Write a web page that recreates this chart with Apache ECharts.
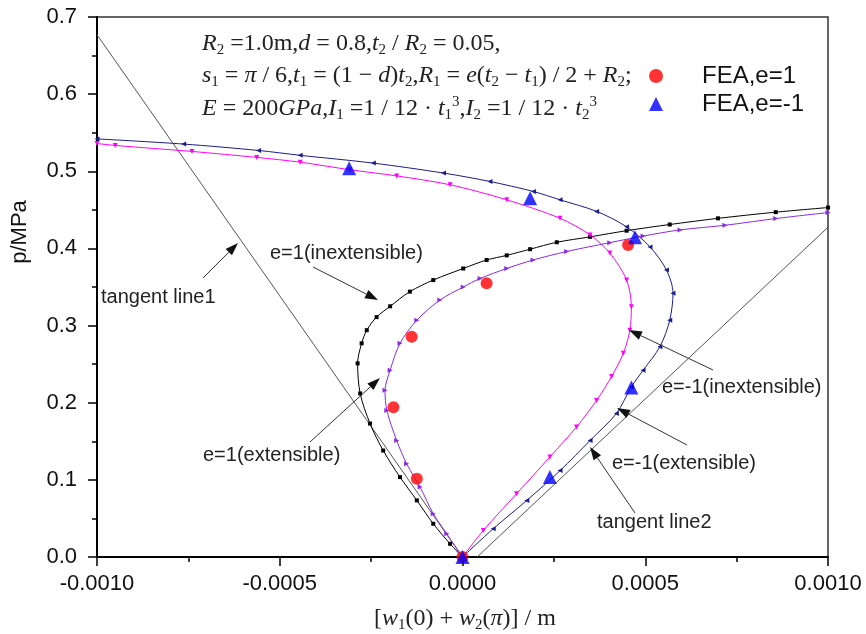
<!DOCTYPE html>
<html><head><meta charset="utf-8">
<script src="https://cdn.jsdelivr.net/npm/echarts@6/dist/echarts.min.js"></script>
<style>html,body{margin:0;padding:0;background:#fff}#c{width:866px;height:634px}</style>
</head><body><div id="c"></div><script>
// ---- data (x in m, p in MPa) ----
const e1Inextensible = [[0,0],[-0.000034,0.0171],[-0.00008,0.0431],[-0.000125,0.0734],[-0.000171,0.1036],[-0.000217,0.138],[-0.000253,0.173],[-0.00028,0.212],[-0.000287,0.251],[-0.000276,0.277],[-0.000262,0.294],[-0.000235,0.311],[-0.000198,0.325],[-0.000144,0.344],[-0.00008,0.359],[0.000002,0.374],[0.000066,0.385],[0.000121,0.391],[0.000185,0.399],[0.000258,0.408],[0.000349,0.415],[0.000449,0.423],[0.000567,0.431],[0.000699,0.439],[0.000857,0.447],[0.001,0.453]];
const e1Extensible = [[0,0],[-0.000043,0.030],[-0.00008,0.0561],[-0.000116,0.0906],[-0.000153,0.121],[-0.00018,0.151],[-0.000207,0.190],[-0.000212,0.216],[-0.000198,0.242],[-0.000171,0.277],[-0.000125,0.307],[-0.000062,0.333],[0.000002,0.350],[0.000048,0.361],[0.000121,0.374],[0.000193,0.385],[0.000285,0.396],[0.000403,0.4075],[0.000494,0.416],[0.000595,0.424],[0.000718,0.430],[0.000857,0.4387],[0.001,0.4465]];
const em1Inextensible = [[0,0],[0.000057,0.0344],[0.000148,0.082],[0.000239,0.1296],[0.000312,0.1686],[0.000367,0.203],[0.000408,0.234],[0.00044,0.264],[0.000458,0.294],[0.000462,0.3245],[0.000449,0.359],[0.000403,0.394],[0.000349,0.4175],[0.000267,0.439],[0.000121,0.463],[-0.000034,0.4825],[-0.00018,0.494],[-0.000308,0.502],[-0.000444,0.5118],[-0.000563,0.518],[-0.00074,0.5257],[-0.00095,0.5335],[-0.001,0.536]];
const em1Extensible = [[0,0],[0.000084,0.0366],[0.000176,0.0734],[0.000267,0.112],[0.000349,0.151],[0.000421,0.186],[0.000462,0.2205],[0.000494,0.242],[0.00054,0.2725],[0.000567,0.307],[0.000576,0.342],[0.000558,0.372],[0.000513,0.402],[0.000449,0.428],[0.000367,0.448],[0.000267,0.463],[0.000194,0.4738],[0.000075,0.4868],[-0.000052,0.4977],[-0.000244,0.5106],[-0.000444,0.5207],[-0.000558,0.527],[-0.000763,0.5353],[-0.001,0.542]];
const tangentLine1 = [[-0.001,0.677],[0,0]];
const tangentLine2 = [[0.00004,0],[0.001,0.4275]];
const feaE1 = [[0,0],[-0.000125,0.1015],[-0.000189,0.194],[-0.000139,0.2855],[0.000066,0.355],[0.000453,0.4045]];
const feaEm1 = [[0,0],[0.000239,0.1036],[0.000462,0.2197],[0.000472,0.4145],[0.000185,0.465],[-0.00031,0.504]];
const xTicks = {min:-0.001, max:0.001, step:0.0005};
const yTicks = {min:0, max:0.7, step:0.1};
const legendNames = ['FEA,e=1','FEA,e=-1'];

const SANS = 'Liberation Sans', SERIF = 'Liberation Serif';
const chart = echarts.init(document.getElementById('c'), null, {renderer:'canvas'});

function curve(name, data, color, sym, rot, size){
  return {name, type:'line', data, smooth:0.3, showSymbol:true,
    symbol:sym, symbolSize:size, symbolRotate:rot, z:3,
    lineStyle:{color, width:1}, itemStyle:{color}, animation:false, silent:true};
}
function arrow(x1,y1,x2,y2){
  const dx=x2-x1, dy=y2-y1, L=Math.hypot(dx,dy), ux=dx/L, uy=dy/L, hl=13, hw=4.5;
  const bx=x2-ux*hl, by=y2-uy*hl;
  return [{type:'line', z:50, shape:{x1,y1,x2:bx,y2:by}, style:{stroke:'#333', lineWidth:1}},
          {type:'polygon', z:50, shape:{points:[[x2,y2],[bx-uy*hw,by+ux*hw],[bx+uy*hw,by-ux*hw]]}, style:{fill:'#111'}}];
}
function label(text,x,y){
  return {type:'text', z:50, x, y, style:{text, fill:'#222', font:'20px "'+SANS+'"', textVerticalAlign:'middle'}};
}
const rich = {
  i:{fontFamily:SERIF, fontStyle:'italic', fontSize:24, lineHeight:28, verticalAlign:'middle', color:'#222'},
  n:{fontFamily:SERIF, fontSize:24, lineHeight:28, verticalAlign:'middle', color:'#222'},
  s:{fontFamily:SERIF, fontSize:15, lineHeight:12, verticalAlign:'bottom', color:'#222'},
  p:{fontFamily:SERIF, fontSize:15, lineHeight:12, verticalAlign:'top', color:'#222'}
};
function mathText(text,x,y,align){
  return {type:'text', z:50, x, y, style:{text, rich, align:align||'left', verticalAlign:'top', fill:'#222'}};
}
const graphics = [].concat(
  mathText('{i|R}{s|2}{n| =1.0m,}{i|d}{n| = 0.8,}{i|t}{s|2}{n| / }{i|R}{s|2}{n| = 0.05,}', 202, 30),
  mathText('{i|s}{s|1}{n| = }{i|π}{n| / 6,}{i|t}{s|1}{n| = (1 − }{i|d}{n|)}{i|t}{s|2}{n|,}{i|R}{s|1}{n| = }{i|e}{n|(}{i|t}{s|2}{n| − }{i|t}{s|1}{n|) / 2 + }{i|R}{s|2}{n|;}', 202, 62),
  mathText('{i|E}{n| = 200}{i|GPa}{n|,}{i|I}{s|1}{n| =1 / 12 · }{i|t}{s|1}{p|3}{n|,}{i|I}{s|2}{n| =1 / 12 · }{i|t}{s|2}{p|3}', 202, 95),
  mathText('{n|[}{i|w}{s|1}{n|(0) + }{i|w}{s|2}{n|(}{i|π}{n|)] / m}', 465, 605, 'center'),
  [{type:'text', z:50, x:20, y:232, rotation:Math.PI/2, style:{text:'p/MPa', font:'22px "'+SANS+'"', fill:'#111', align:'center', verticalAlign:'middle'}}],
  label('tangent line1',101,297), arrow(203,278,238,243),
  label('e=1(inextensible)',270,253), arrow(313,267,378,300),
  label('e=1(extensible)',203,455), arrow(310,442,380,378),
  label('e=-1(inextensible)',662,387), arrow(713,370,629,330),
  label('e=-1(extensible)',612,463), arrow(687,445,617,408),
  label('tangent line2',597,522), arrow(635,513,590,447)
);

function axisCommon(){ return {
  axisLine:{onZero:false, lineStyle:{color:'#000', width:2}},
  axisTick:{length:9, lineStyle:{color:'#000', width:1.5}},
  minorTick:{show:true, splitNumber:2, length:5, lineStyle:{color:'#000', width:1.5}},
  splitLine:{show:false}, minorSplitLine:{show:false}
};}
chart.setOption({
  animation:false,
  backgroundColor:'#fff',
  grid:{left:97, right:38, top:17, bottom:77, show:true, borderColor:'#333', borderWidth:1.5, containLabel:false},
  xAxis:Object.assign({type:'value', min:xTicks.min, max:xTicks.max, interval:xTicks.step,
    axisLabel:{fontFamily:SANS, fontSize:22, color:'#111', margin:16, formatter:v=>(Math.abs(v)<1e-12?0:v).toFixed(4)}}, axisCommon()),
  yAxis:Object.assign({type:'value', min:yTicks.min, max:yTicks.max, interval:yTicks.step,
    axisLabel:{fontFamily:SANS, fontSize:22, color:'#111', margin:20, formatter:v=>v.toFixed(1)}}, axisCommon()),
  legend:{data:[{name:legendNames[0], icon:'circle'},{name:legendNames[1], icon:'triangle'}],
    orient:'vertical', left:644, top:59, itemWidth:14, itemHeight:14, itemGap:4,
    textStyle:{fontFamily:SANS, fontSize:24, color:'#111', padding:[0,0,0,34]}, selectedMode:false},
  graphic:graphics,
  series:[
    {name:'tangent line1', type:'line', data:tangentLine1, showSymbol:false, lineStyle:{color:'#555', width:1}, z:2, silent:true},
    {name:'tangent line2', type:'line', data:tangentLine2, showSymbol:false, lineStyle:{color:'#555', width:1}, z:2, silent:true},
    curve('e=1(inextensible)', e1Inextensible, '#000000', 'rect', 0, 4),
    curve('e=1(extensible)', e1Extensible, '#8a2be2', 'triangle', -90, 5),
    curve('e=-1(inextensible)', em1Inextensible, '#ff00ff', 'triangle', 180, 5),
    curve('e=-1(extensible)', em1Extensible, '#1c1c8c', 'triangle', 90, 5),
    {name:legendNames[0], type:'scatter', data:feaE1, symbol:'circle', symbolSize:12, itemStyle:{color:'#ff0000'}, z:5},
    {name:legendNames[1], type:'scatter', data:feaEm1, symbol:'triangle', symbolSize:14, itemStyle:{color:'#0000ff'}, z:6}
  ]
});
</script></body></html>
